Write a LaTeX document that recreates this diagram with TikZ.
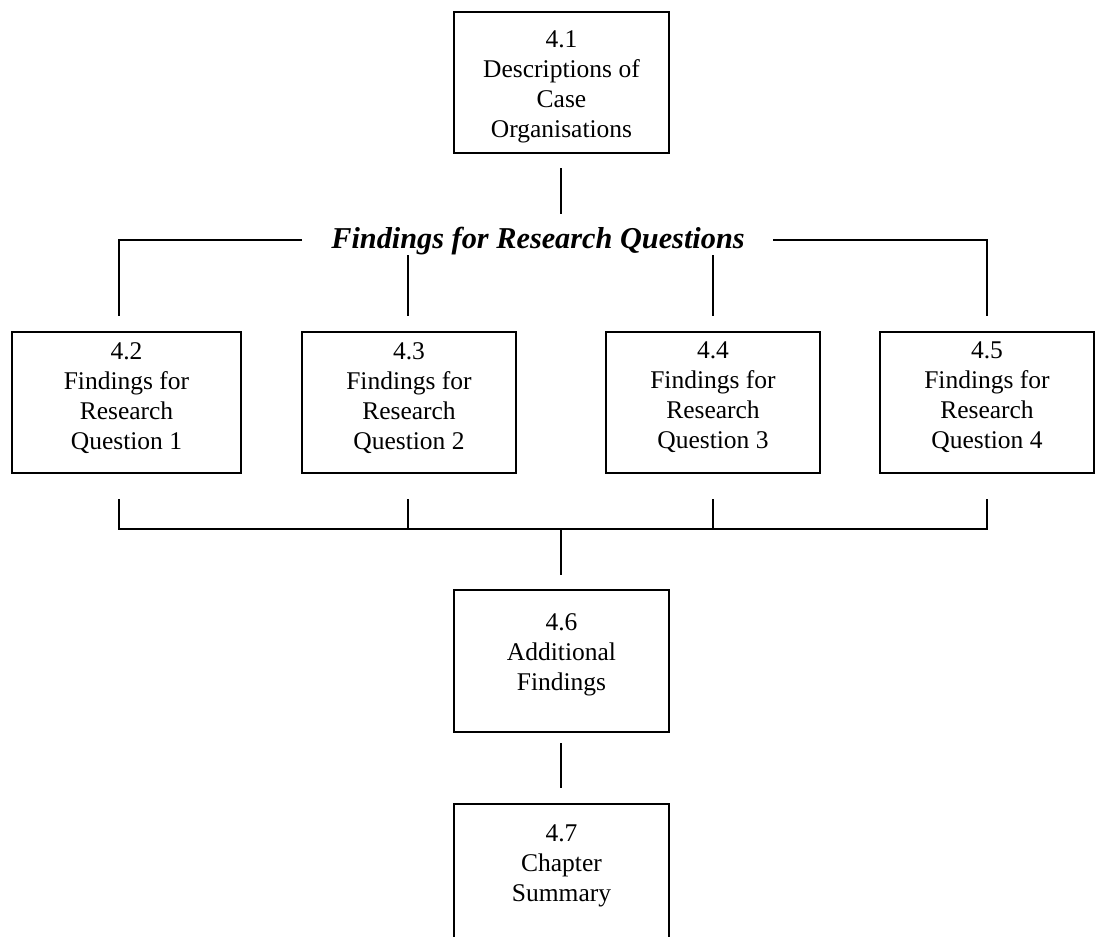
\documentclass[tikz,border=0pt]{standalone}
\usepackage{fontspec}
\setmainfont{Liberation Serif}
\usetikzlibrary{calc}
\begin{document}
\begin{tikzpicture}[x=1pt,y=-1pt,
  boxframe/.style={draw, line width=1.5pt, inner sep=0pt, minimum height=141pt},
  boxtext/.style={anchor=north, inner sep=0pt, align=center,
    font=\fontsize{25.5}{30}\selectfont},
  heading/.style={anchor=base, inner sep=0pt,
    font=\fontsize{30.3}{36}\selectfont\bfseries\itshape},
  link/.style={draw, line width=1.4pt}]
\useasboundingbox (0,0) rectangle (1096,937);

% chapter section boxes
\node[boxframe, minimum width=215pt] (b41) at (561.5,82.5) {};
\node[boxframe, minimum width=229pt] (b42) at (126.5,402.5) {};
\node[boxframe, minimum width=214pt] (b43) at (409,402.5) {};
\node[boxframe, minimum width=214pt] (b44) at (713,402.5) {};
\node[boxframe, minimum width=214pt] (b45) at (987,402.5) {};
\node[boxframe, minimum width=215pt, minimum height=142pt] (b46) at (561.5,661) {};
\node[boxframe, minimum width=215pt] (b47) at (561.5,874.5) {};

% box captions
\node[boxtext] (t41) at (561.5,30) {4.1\\Descriptions of\\Case\\Organisations};
\node[boxtext] (t42) at (126.5,342) {4.2\\Findings for\\Research\\Question 1};
\node[boxtext] (t43) at (409,342) {4.3\\Findings for\\Research\\Question 2};
\node[boxtext] (t44) at (713,342) {4.4\\Findings for\\Research\\Question 3};
\node[boxtext] (t45) at (987,342) {4.5\\Findings for\\Research\\Question 4};
\node[boxtext] (t46) at (561.5,613) {4.6\\Additional\\Findings};
\node[boxtext] (t47) at (561.5,825) {4.7\\Chapter\\Summary};

% heading of the research-question group
\node[heading] (rq) at (538,248) {Findings for Research Questions};

% connector end points
\coordinate (s41) at (561,168);
\coordinate (e41) at (561,214);
\coordinate (hl) at (302,240);
\coordinate (hr) at (773,240);
\coordinate (c1) at (119,240);
\coordinate (c4) at (987,240);
\coordinate (u1) at (119,316);
\coordinate (u2) at (408,316);
\coordinate (u3) at (713,316);
\coordinate (u4) at (987,316);
\coordinate (v2) at (408,255);
\coordinate (v3) at (713,255);
\coordinate (d1) at (119,499);
\coordinate (d2) at (408,499);
\coordinate (d3) at (713,499);
\coordinate (d4) at (987,499);
\coordinate (j1) at (119,529);
\coordinate (j2) at (408,529);
\coordinate (j3) at (713,529);
\coordinate (j4) at (987,529);
\coordinate (jm) at (561,529);
\coordinate (m46) at (561,575);
\coordinate (s46) at (561,743);
\coordinate (e47) at (561,788);

% connectors
\path[link] (s41) -- (e41);
\path[link] (hl) -- (c1) -- (u1);
\path[link] (hr) -- (c4) -- (u4);
\path[link] (v2) -- (u2);
\path[link] (v3) -- (u3);
\path[link] (d1) -- (j1) -- (j4) -- (d4);
\path[link] (d2) -- (j2);
\path[link] (d3) -- (j3);
\path[link] (jm) -- (m46);
\path[link] (s46) -- (e47);
\end{tikzpicture}
\end{document}
